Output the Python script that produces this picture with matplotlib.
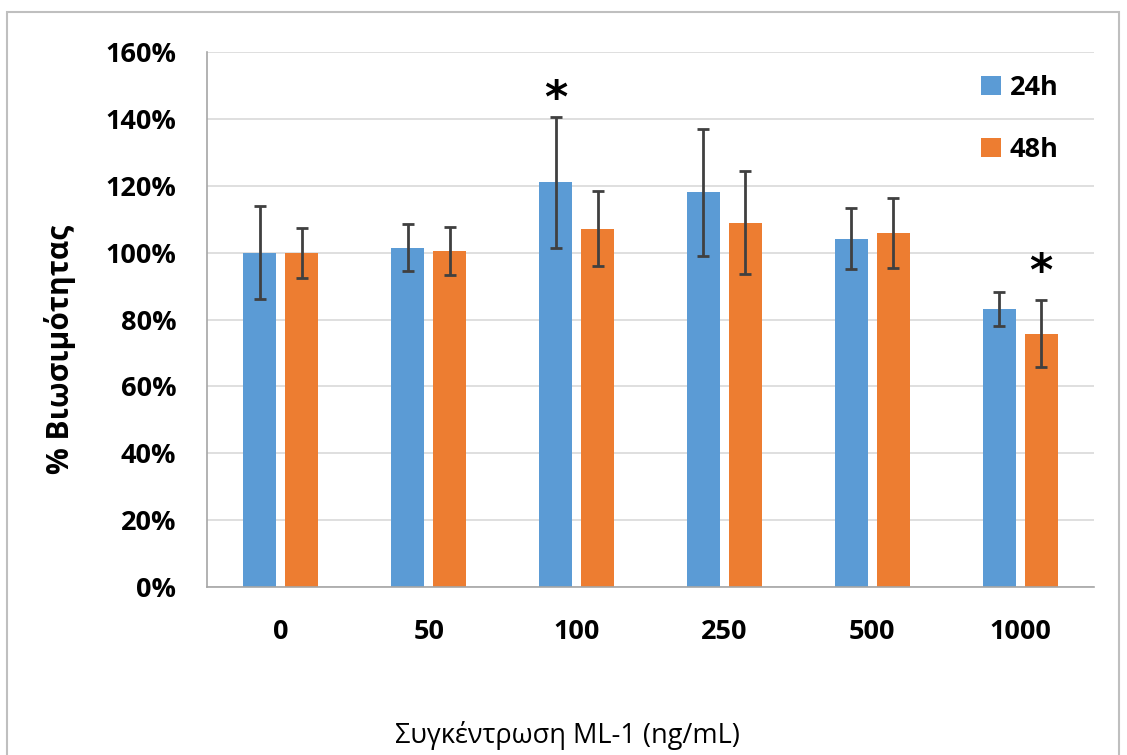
import matplotlib
matplotlib.use('Agg')
import matplotlib.pyplot as plt
from matplotlib.patches import Rectangle
import numpy as np

# данные
conc = ['0', '50', '100', '250', '500', '1000']
v24 = [100, 101.5, 121, 118, 104.2, 83.2]
e24 = [14, 7, 19.5, 19, 9, 5]
v48 = [100, 100.5, 107.2, 109, 105.9, 75.7]
e48 = [7.5, 7.2, 11.3, 15.5, 10.5, 10]
# значимость: (индекс группы, серия, высота звездочки в %)
stars = [(2, '24h', 139.5), (5, '48h', 87.5)]

plt.rcParams['font.family'] = ['Open Sans', 'DejaVu Sans']

fig = plt.figure(figsize=(11.27, 7.55), dpi=100)
ax = fig.add_axes([207/1127, 1-587/755, (1094-207)/1127, (587-52)/755])

x = np.arange(len(conc))
w = 0.223
off = 0.142
ekw = dict(ecolor='#404040', elinewidth=2, capsize=4.5, capthick=2)
ax.bar(x - off, v24, w, color='#5B9BD5', label='24h', zorder=2)
ax.bar(x + off, v48, w, color='#ED7D31', label='48h', zorder=2)
ax.errorbar(x - off, v24, yerr=e24, fmt='none', zorder=3, **ekw)
ax.errorbar(x + off, v48, yerr=e48, fmt='none', zorder=3, **ekw)

for i, s, ys in stars:
    xs = x[i] - off if s == '24h' else x[i] + off
    ax.text(xs, ys, '*', ha='center', va='bottom', fontsize=32,
            fontweight='bold', family='DejaVu Sans')

ax.set_xlim(-0.5, len(conc) - 0.5)
ax.set_ylim(0, 160)
ax.set_yticks(np.arange(0, 161, 20))
ax.set_yticklabels([f'{t}%' for t in range(0, 161, 20)])
ax.set_xticks(x)
ax.set_xticklabels(conc)
ax.tick_params(axis='both', length=0, labelsize=19.5)
ax.tick_params(axis='y', pad=22)
ax.tick_params(axis='x', pad=23)
for lb in ax.get_xticklabels() + ax.get_yticklabels():
    lb.set_fontweight('bold')
ax.grid(axis='y', color='#D9D9D9', linewidth=1.2, zorder=0)
for sp in ['top', 'right']:
    ax.spines[sp].set_visible(False)
ax.spines['left'].set_color('#A6A6A6')
ax.spines['bottom'].set_color('#A6A6A6')
ax.spines['left'].set_linewidth(1.2)
ax.spines['bottom'].set_linewidth(1.2)

leg = ax.legend(loc='upper right', bbox_to_anchor=(0.972, 0.978), frameon=False,
                borderaxespad=0, handlelength=0.75, handleheight=0.7,
                handletextpad=0.3, labelspacing=1.35,
                prop={'size': 19.5, 'weight': 'bold'})

fig.text(567/1127, 1-735/755, 'Συγκέντρωση ML-1 (ng/mL)', ha='center', va='center',
         fontsize=19.5)
fig.text(60/1127, 1-349/755, '% Βιωσιμότητας', ha='center', va='center',
         rotation=90, fontsize=21.5, fontweight='bold')

fig.patches.append(Rectangle((7/1127, -0.1), (1119-7)/1127, 1.1-12/755,
                             transform=fig.transFigure, fill=False,
                             edgecolor='#BFBFBF', linewidth=1.5))

plt.savefig('out.png', dpi=100)
plt.close()
